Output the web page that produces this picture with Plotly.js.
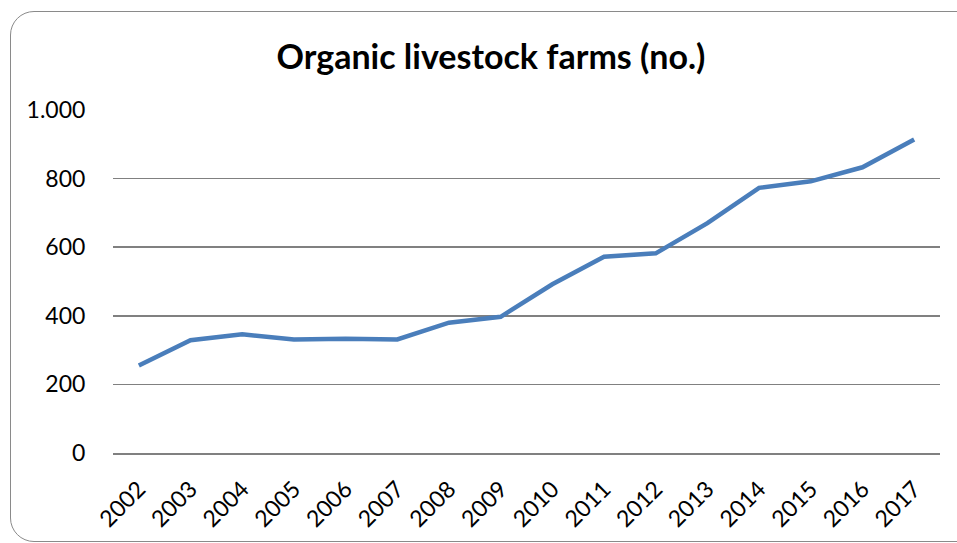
<!DOCTYPE html>
<html>
<head>
<meta charset="utf-8">
<script src="https://cdn.plot.ly/plotly-3.0.1.min.js"></script>
<style>
  html, body { margin: 0; padding: 0; background: #ffffff; overflow: hidden; }
  #wrap { position: relative; width: 957px; height: 543px; }
  #chart { position: absolute; left: 0; top: 0; width: 957px; height: 543px; }
  #frame {
    position: absolute; left: 10px; top: 11px; width: 970px; height: 529px;
    border: 1.5px solid #8a8a8a; border-radius: 24px; pointer-events: none;
  }
</style>
</head>
<body>
<div id="wrap">
  <div id="chart"></div>
  <div id="frame"></div>
</div>
<script>
// Number of organic livestock farms per year
const years = ['2002','2003','2004','2005','2006','2007','2008','2009',
               '2010','2011','2012','2013','2014','2015','2016','2017'];
const farms = [255, 329, 346, 331, 333, 331, 380, 397,
               492, 572, 582, 670, 773, 792, 833, 914];
const yTickVals = [0, 200, 400, 600, 800, 1000];
const yTickText = ['0', '200', '400', '600', '800', '1.000'];

const FONT = 'Lato, "Open Sans", "Liberation Sans", sans-serif';
const GRID = '#808080';

const trace = {
  x: years,
  y: farms,
  type: 'scatter',
  mode: 'lines',
  line: { color: '#4a7ebb', width: 4.5 },
  hoverinfo: 'x+y'
};

const layout = {
  width: 957,
  height: 543,
  margin: { l: 113, r: 17, t: 110, b: 90 },
  paper_bgcolor: '#ffffff',
  plot_bgcolor: '#ffffff',
  showlegend: false,
  title: {
    text: '<b>Organic livestock farms (no.)</b>',
    font: { family: FONT, size: 34, color: '#000000' },
    x: 0.513, xanchor: 'center',
    y: 0.895, yanchor: 'middle', yref: 'container'
  },
  xaxis: {
    type: 'category',
    range: [-0.5, 15.5],
    showgrid: false,
    zeroline: false,
    showline: true,
    linecolor: GRID,
    linewidth: 1.5,
    tickangle: -45,
    ticks: 'outside',
    ticklen: 12,
    tickcolor: 'rgba(0,0,0,0)',
    tickfont: { family: FONT, size: 23, color: '#000000' }
  },
  yaxis: {
    range: [0, 1000],
    tickvals: yTickVals,
    ticktext: yTickText,
    showgrid: true,
    gridcolor: GRID,
    gridwidth: 1.5,
    zeroline: false,
    showline: false,
    ticks: 'outside',
    ticklen: 22,
    tickcolor: 'rgba(0,0,0,0)',
    tickfont: { family: FONT, size: 23, color: '#000000' }
  }
};

Plotly.newPlot('chart', [trace], layout, { displayModeBar: false, staticPlot: true });
</script>
</body>
</html>
